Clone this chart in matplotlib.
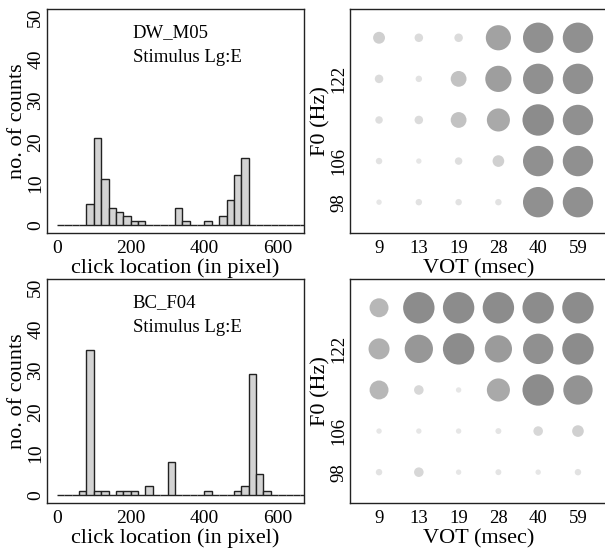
import numpy as np
import matplotlib
matplotlib.use("Agg")
import matplotlib.pyplot as plt

plt.rcParams['font.family'] = ['Liberation Serif', 'DejaVu Serif']

# histogram bins (20 px wide), counts
BIN_EDGES = list(range(0, 700, 20))
COUNTS_DW = {80: 5, 100: 21, 120: 11, 140: 4, 160: 3, 180: 2, 200: 1, 220: 1,
             320: 4, 340: 1, 400: 1, 440: 2, 460: 6, 480: 12, 500: 16}
COUNTS_BC = {60: 1, 80: 35, 100: 1, 120: 1, 160: 1, 180: 1, 200: 1, 240: 2,
             300: 8, 400: 1, 480: 1, 500: 2, 520: 29, 540: 5, 560: 1}
HIST_TICKS = [0, 200, 400, 600]
HIST_YTICKS = [0, 10, 20, 30, 40, 50]

# dot plots: VOT on x, F0 rows (98..130), value 0..1 drives size and grey
VOT = ["9", "13", "19", "28", "40", "59"]
F0_ROWS = [98, 106, 114, 122, 130]
F0_LABELS = {98: "98", 106: "106", 122: "122"}
VALS_DW = [
    [0.00, 0.04, 0.04, 0.04, 0.96, 0.96],   # 98
    [0.04, 0.00, 0.08, 0.24, 0.96, 0.96],   # 106
    [0.08, 0.12, 0.40, 0.68, 1.00, 0.96],   # 114
    [0.12, 0.04, 0.40, 0.80, 0.96, 0.96],   # 122
    [0.25, 0.12, 0.12, 0.76, 0.96, 0.96],   # 130
]
VALS_BC = [
    [0.04, 0.16, 0.00, 0.02, 0.00, 0.04],
    [0.00, 0.00, 0.00, 0.02, 0.16, 0.24],
    [0.52, 0.16, 0.00, 0.68, 1.00, 0.92],
    [0.60, 0.88, 1.00, 0.84, 0.96, 1.00],
    [0.52, 1.00, 1.00, 1.00, 1.00, 1.00],
]

W, H = 605, 553


def px_axes(x0, y0, x1, y1):
    return fig.add_axes([x0 / W, 1 - y1 / H, (x1 - x0) / W, (y1 - y0) / H])


def style_box(ax):
    for s in ax.spines.values():
        s.set_linewidth(1.0)
        s.set_color("#222222")
    ax.tick_params(axis="x", length=0, labelsize=14, pad=5)
    ax.tick_params(axis="y", length=0, labelsize=14, pad=2)


def plot_hist(ax, counts, name):
    heights = [counts.get(b, 0) for b in BIN_EDGES]
    ax.bar(BIN_EDGES, heights, width=20, align="edge", color="#d3d3d3",
           edgecolor="#222222", linewidth=1.0)
    ax.set_xlim(-27, 670)
    ax.set_ylim(-2, 52)
    ax.set_xticks(HIST_TICKS)
    ax.set_yticks(HIST_YTICKS)
    for lab in ax.get_yticklabels():
        lab.set_rotation(90)
        lab.set_va("center")
    style_box(ax)
    ax.set_xlabel("click location (in pixel)", fontsize=16, labelpad=1)
    ax.set_ylabel("no. of counts", fontsize=16, labelpad=0)
    ax.text(206, 46.2, name, fontsize=13.5, va="center")
    ax.text(206, 40.4, "Stimulus Lg:E", fontsize=13.5, va="center")


def plot_dots(ax, vals):
    xs, ys, sizes, cols = [], [], [], []
    for i, row in enumerate(vals):
        for j, v in enumerate(row):
            r_px = 2.7 + 13.0 * v
            xs.append(j + 1)
            ys.append(i + 1)
            sizes.append((2 * r_px * 0.72) ** 2)
            g = 0.90 - 0.35 * v
            cols.append((g, g, g))
    ax.scatter(xs, ys, s=sizes, c=cols, edgecolors="none")
    ax.set_xlim(0.27, 6.73)
    ax.set_ylim(0.25, 5.7)
    ax.set_xticks(range(1, len(VOT) + 1))
    ax.set_xticklabels(VOT)
    ypos = [i + 1 for i, f in enumerate(F0_ROWS) if f in F0_LABELS]
    ax.set_yticks(ypos)
    ax.set_yticklabels([F0_LABELS[f] for f in F0_ROWS if f in F0_LABELS],
                       rotation=90, va="center")
    style_box(ax)
    ax.tick_params(labelsize=13.5)
    ax.set_xlabel("VOT (msec)", fontsize=16, labelpad=2)
    ax.set_ylabel("F0 (Hz)", fontsize=16, labelpad=0)


fig = plt.figure(figsize=(W / 100, H / 100), dpi=100)

ax1 = px_axes(47, 9, 304, 233)
plot_hist(ax1, COUNTS_DW, "DW_M05")
ax2 = px_axes(350, 9, 607, 233)
plot_dots(ax2, VALS_DW)
ax3 = px_axes(47, 279, 304, 503)
plot_hist(ax3, COUNTS_BC, "BC_F04")
ax4 = px_axes(350, 279, 607, 503)
plot_dots(ax4, VALS_BC)

fig.savefig("out.png", dpi=100)
